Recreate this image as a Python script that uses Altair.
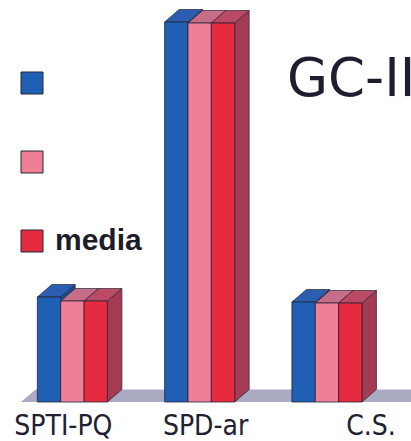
import altair as alt
import pandas as pd

# Categories and series
groups = ["SPTI-PQ", "SPD-ar", "C.S."]
series = ["serie 1", "serie 2", "media"]
serie_1 = [10.5, 38.0, 10.0]
serie_2 = [10.1, 37.9, 9.9]
media = [10.1, 37.9, 9.9]
values = [serie_1, serie_2, media]

# Face colours of the extruded bars
front_colors = ["#1f5fb3", "#ef7f96", "#e62a40"]
top_colors = ["#2b5db0", "#c66d88", "#bb4a64"]
side_colors = ["#1a4a8e", "#ad4d66", "#a53a53"]
outline = "#262636"

# Layout of the pseudo-3D bars (in data units)
GROUP_STEP = 5.45   # distance between group starts, in bar widths
DX, DY = 0.62, 1.25  # depth of the extrusion

fronts, tops, sides = [], [], []
for g, grp in enumerate(groups):
    for s, name in enumerate(series):
        v = values[s][g]
        x0 = g * GROUP_STEP + s
        x1 = x0 + 1
        key = f"{grp}|{name}"
        fronts.append(dict(group=grp, serie=name, x0=x0, x1=x1, y0=0.0, y1=v))
        for x, y, y2 in [(x0, v, v), (x0 + DX, v + DY, v), (x1, v + DY, v), (x1 + DX, v + DY, v + DY)]:
            tops.append(dict(face=key, x=x, y=y, y2=y2, fill=top_colors[s]))
        for x, y, y2 in [(x1, v, 0.0), (x1 + DX, v + DY, DY)]:
            sides.append(dict(face=key, x=x, y=y, y2=y2, fill=side_colors[s]))

front_df = pd.DataFrame(fronts)
top_df = pd.DataFrame(tops)
side_df = pd.DataFrame(sides)

floor_df = pd.DataFrame(dict(x=[-0.7, -0.7 + DX, 17.5], y=[0.0, DY, DY], y2=[0.0, 0.0, 0.0]))

label_df = pd.DataFrame(dict(group=groups, xc=[g * GROUP_STEP + 1.5 for g in range(len(groups))]))
label_shift = [-9, 6, 44]

x_scale = alt.Scale(domain=[-1.6, 16.0], nice=False, zero=False)
y_scale = alt.Scale(domain=[-3.9, 40.2], nice=False, zero=False)

floor = alt.Chart(floor_df).mark_area(color="#a9abc2", clip=True).encode(
    x=alt.X("x:Q", scale=x_scale, axis=None),
    y=alt.Y("y:Q", scale=y_scale, axis=None),
    y2="y2:Q",
)

side_layer = alt.Chart(side_df).mark_area(stroke=outline, strokeWidth=0.7, interpolate="linear").encode(
    x=alt.X("x:Q", scale=x_scale, axis=None),
    y=alt.Y("y:Q", scale=y_scale, axis=None),
    y2="y2:Q",
    detail="face:N",
    fill=alt.Fill("fill:N", scale=None),
)

top_layer = alt.Chart(top_df).mark_area(stroke=outline, strokeWidth=0.7, interpolate="linear").encode(
    x=alt.X("x:Q", scale=x_scale, axis=None),
    y=alt.Y("y:Q", scale=y_scale, axis=None),
    y2="y2:Q",
    detail="face:N",
    fill=alt.Fill("fill:N", scale=None),
)

front_layer = alt.Chart(front_df).mark_rect(stroke=outline, strokeWidth=0.8).encode(
    x=alt.X("x0:Q", scale=x_scale, axis=None),
    x2="x1:Q",
    y=alt.Y("y0:Q", scale=y_scale, axis=None),
    y2="y1:Q",
    fill=alt.Fill(
        "serie:N",
        scale=alt.Scale(domain=series, range=front_colors),
        legend=alt.Legend(
            title=None,
            orient="none",
            legendX=17,
            legendY=68,
            padding=0,
            symbolType="square",
            symbolSize=484,
            symbolStrokeColor=outline,
            symbolStrokeWidth=1,
            symbolOpacity=1,
            labelExpr="datum.label == 'media' ? 'media' : ' '",
            labelFont="Liberation Sans",
            labelFontSize=30,
            labelFontWeight="bold",
            labelColor="#1c1c2a",
            labelOffset=8,
            labelLimit=200,
            rowPadding=49,
        ),
    ),
)

label_layers = []
for grp, shift in zip(groups, label_shift):
    label_layers.append(
        alt.Chart(label_df[label_df.group == grp]).mark_text(
            font="Liberation Sans Narrow, DejaVu Sans Condensed, Liberation Sans",
            fontSize=28,
            color="#202030",
            baseline="alphabetic",
            align="center",
            dx=shift,
            dy=33,
        ).encode(
            x=alt.X("xc:Q", scale=x_scale, axis=None),
            y=alt.Y(datum=0, scale=y_scale),
            text="group:N",
        )
    )

chart = alt.layer(floor, side_layer, top_layer, front_layer, *label_layers).resolve_scale(
    fill="independent"
).properties(
    width=411,
    height=441,
    padding=0,
    autosize=alt.AutoSizeParams(type="none"),
    title=alt.TitleParams(
        "GC-II",
        anchor="start",
        frame="group",
        orient="top",
        offset=0,
        dx=287,
        dy=149,
        baseline="alphabetic",
        font="DejaVu Sans",
        fontSize=53,
        fontWeight="normal",
        color="#1e1e30",
    ),
).configure_view(stroke=None)

chart.save("out.html", embed_options={"renderer": "svg", "actions": False})
